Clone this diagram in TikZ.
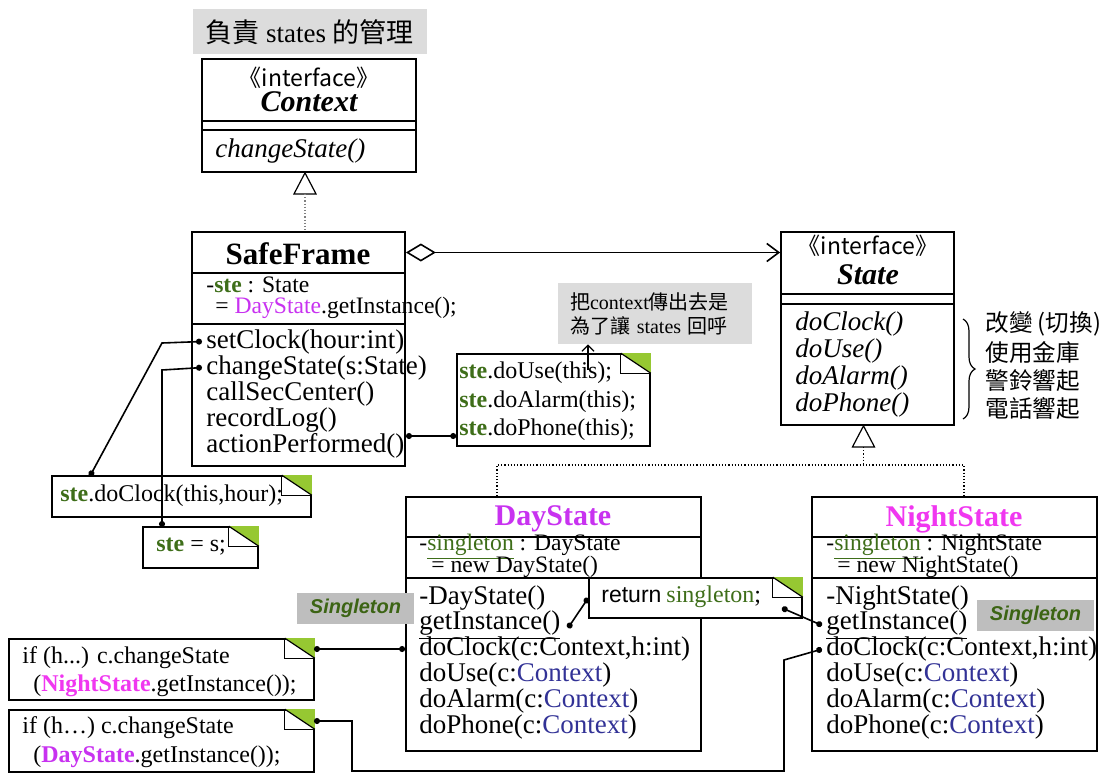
\documentclass[tikz,border=0pt]{standalone}
\usepackage{fontspec}
\setmainfont{Liberation Serif}
\setsansfont{Liberation Sans}
\newfontfamily\cjk{Noto Sans CJK TC}
\usepackage{xcolor}
\usetikzlibrary{arrows.meta}
\usetikzlibrary{fit}
\usetikzlibrary{decorations.pathreplacing}

\definecolor{steGreen}{RGB}{62,110,25}
\definecolor{dayPink}{RGB}{200,50,240}
\definecolor{nightPink}{RGB}{240,55,240}
\definecolor{ctxBlue}{RGB}{50,50,150}
\definecolor{foldGreen}{RGB}{150,200,50}
\definecolor{tagGray}{RGB}{190,190,190}
\definecolor{noteGray}{RGB}{220,220,220}
\definecolor{tagGreen}{RGB}{60,100,20}

\newcommand{\fsz}[2]{\fontsize{#1}{#2}\selectfont}
\newcommand{\ste}{\textcolor{steGreen}{\textbf{ste}}}
\newcommand{\ctxt}{\textcolor{ctxBlue}{Context}}
\newcommand{\foldcorner}[1]{%
  \fill[foldGreen] ([xshift=-15pt]#1.north east) -- (#1.north east) -- ([yshift=-10pt]#1.north east) -- cycle;
  \draw[line width=0.6pt] ([xshift=-15pt]#1.north east) |- ([yshift=-10pt]#1.north east);
  \draw[line width=0.6pt] ([xshift=-15pt]#1.north east) -- ([yshift=-10pt]#1.north east);}
\newcommand{\gentri}[2]{%
  \coordinate (#2) at ([xshift=-2pt]#1);
  \draw[line width=0.6pt, fill=white] (#2) -- ++(-11,21) -- ++(22,0) -- cycle;}

\begin{document}
\begin{tikzpicture}[x=0.5pt, y=-0.5pt,
  box/.style={draw, line width=0.9pt, inner sep=0pt},
  noteBox/.style={draw, fill=white, line width=0.8pt, inner sep=0pt},
  meth/.style={font=\fsz{13.5}{13}, inner xsep=2pt, inner ysep=0pt, anchor=base west},
  attr/.style={font=\fsz{11.8}{10}, inner xsep=2pt, inner ysep=0pt, anchor=base west},
  noteText/.style={font=\fsz{12}{14}, inner sep=0pt, anchor=west},
  stereo/.style={font=\cjk\fsz{11.5}{12}, inner sep=0pt},
  wire/.style={line width=0.8pt, {Circle[length=3pt]}-{Circle[length=3pt]}},
  genline/.style={densely dotted, line width=0.6pt},
  tagBox/.style={fill=tagGray, inner sep=0pt, minimum width=58.5pt, minimum height=15.5pt,
    font=\sffamily\bfseries\itshape\fsz{10}{12}, text=tagGreen}]
\useasboundingbox (0,0) rectangle (1105,778);

% title
\node[fill=noteGray, minimum width=117pt, minimum height=22.4pt, inner sep=0pt, font=\fsz{13.5}{14}] (topNote) at (309.5,31.7) {{\cjk 負責} states {\cjk 的管理}};

% Context
\node[box, fit={(202,59) (416,121)}] (ctxHead) {};
\node[box, fit={(202,121) (416,130)}] (ctxAttr) {};
\node[box, fit={(202,130) (416,172)}] (ctxOps) {};
\node[stereo] (ctxStereo) at (309,78) {《interface》};
\node[font=\bfseries\itshape\fsz{15}{15}, inner sep=0pt] (ctxName) at (309,102) {Context};
\node[meth] (ctxOp) at (211,157) {\textit{changeState()}};

% SafeFrame
\node[box, fit={(192,232) (405,273)}] (sfHead) {};
\node[box, fit={(192,273) (405,324)}] (sfAttr) {};
\node[box, fit={(192,324) (405,466)}] (sfOps) {};
\node[font=\bfseries\fsz{15.5}{15}, inner sep=0pt] (sfName) at (298,254) {SafeFrame};
\node[attr] (sfAttr1) at (202,292) {-\ste{} : State};
\node[attr] (sfAttr2) at (211,313) {= \textcolor{dayPink}{DayState}.getInstance();};
\foreach \m [count=\i] in {setClock(hour:int), changeState(s:State), callSecCenter(), recordLog(), actionPerformed()}
  \node[meth] (sf\i) at (202,{348+26*(\i-1)}) {\m};

\gentri{ctxOps.south}{ctxTip}
\draw[genline, gray] ([yshift=-10.5pt]ctxTip) -- (ctxTip |- sfHead.north);

% State
\node[box, fit={(781,232) (954,294)}] (stHead) {};
\node[box, fit={(781,294) (954,304)}] (stAttr) {};
\node[box, fit={(781,304) (954,425)}] (stOps) {};
\node[stereo] (stStereo) at (868,246) {《interface》};
\node[font=\bfseries\itshape\fsz{15}{15}, inner sep=0pt] (stName) at (868,275) {State};
\foreach \m [count=\i] in {doClock(), doUse(), doAlarm(), doPhone()}
  \node[meth] (stOp\i) at (791,{330+27*(\i-1)}) {\textit{\m}};
\draw[decorate, decoration={brace, amplitude=6pt}, line width=0.6pt] (963,319) -- (963,419);
\foreach \t [count=\i] in {改變 (切換), 使用金庫, 警鈴響起, 電話響起}
  \node[anchor=west, inner sep=0pt, font=\cjk\fsz{11.8}{13}] (act\i) at (985,{324+28*(\i-1)}) {\t};

\draw[line width=0.8pt, {Diamond[open, length=15pt, width=9pt]}-{Straight Barb[length=6pt, width=9pt]}] (sfHead.east) -- (stHead.west |- sfHead.east);

% hint and calls
\node[fill=noteGray, inner xsep=6pt, inner ysep=0pt, text width=84.9pt, minimum height=30.5pt, align=left, font=\fsz{10}{12}] (hint) at (655,313.5) {{\cjk 把}context{\cjk 傳出去是}\\{\cjk 為了讓} states {\cjk 回呼}};
\node[noteBox, fit={(457,354) (650,446)}] (phoneNote) {};
\foldcorner{phoneNote}
\foreach \m/\y [count=\i] in {doUse/373, doAlarm/402, doPhone/430}
  \node[noteText] (call\i) at (459,\y) {\ste.\m(this);};
\coordinate (hintFoot) at (588,370);
\draw[line width=0.6pt, -{Straight Barb[length=3pt, width=6pt]}] (hintFoot) -- (hintFoot |- hint.south);

% notes of SafeFrame
\node[noteBox, fit={(52,476) (311,517)}] (clockNote) {};
\foldcorner{clockNote}
\node[noteText] (clockText) at (60,496) {\ste.doClock(this,hour);};
\node[noteBox, fit={(143,527) (258,568)}] (steNote) {};
\foldcorner{steNote}
\node[noteText] (steText) at (156,547) {\ste{} = s;};

% DayState
\node[box, fit={(406,497) (701,537)}] (dayHead) {};
\node[box, fit={(406,537) (701,578)}] (dayAttr) {};
\node[box, fit={(406,578) (701,751)}] (dayOps) {};
\node[font=\bfseries\fsz{15}{15}, text=dayPink, inner sep=0pt] (dayName) at (553,519) {DayState};
\node[attr] (dayAttr1) at (415,550) {-\textcolor{steGreen}{\underline{singleton}} : DayState};
\node[attr] (dayAttr2) at (427,572) {= new DayState()};
\foreach \m [count=\i] in {-DayState(), \underline{getInstance()}, {doClock(c:Context,h:int)}, doUse(c:\ctxt), doAlarm(c:\ctxt), doPhone(c:\ctxt)}
  \node[meth] (day\i) at (415,{604+25.8*(\i-1)}) {\m};

% NightState
\node[box, fit={(812,497) (1097,537)}] (nightHead) {};
\node[box, fit={(812,537) (1097,578)}] (nightAttr) {};
\node[box, fit={(812,578) (1097,751)}] (nightOps) {};
\node[font=\bfseries\fsz{15}{15}, text=nightPink, inner sep=0pt] (nightName) at (954,519) {NightState};
\node[attr] (nightAttr1) at (822,550) {-\textcolor{steGreen}{\underline{singleton}} : NightState};
\node[attr] (nightAttr2) at (833,572) {= new NightState()};
\foreach \m [count=\i] in {-NightState(), \underline{getInstance()}, {doClock(c:Context,h:int)}, doUse(c:\ctxt), doAlarm(c:\ctxt), doPhone(c:\ctxt)}
  \node[meth] (night\i) at (822,{604+25.8*(\i-1)}) {\m};

\gentri{stOps.south}{stTip}
\coordinate (dayJoin) at (497,465);
\coordinate (nightJoin) at (964,465);
\draw[genline] ([yshift=-10.5pt]stTip) -- (stTip |- dayJoin);
\draw[genline] (dayHead.north -| dayJoin) -- (dayJoin) -- (nightJoin) -- (nightHead.north -| nightJoin);

% notes of the states
\node[noteBox, fit={(9,639) (314,700)}] (nightNote) {};
\foldcorner{nightNote}
\node[noteText] (nightIf) at (22,658) {if (h...) c.changeState};
\node[noteText] (nightGet) at (33,686) {(\textbf{\textcolor{nightPink}{NightState}}.getInstance());};
\node[noteBox, fit={(9,710) (314,772)}] (dayNote) {};
\foldcorner{dayNote}
\node[noteText] (dayIf) at (22,728) {if (h…) c.changeState};
\node[noteText] (dayGet) at (33,757) {(\textbf{\textcolor{dayPink}{DayState}}.getInstance());};
\node[noteBox, fit={(589,578) (802,618)}] (retNote) {};
\foldcorner{retNote}
\node[anchor=west, inner sep=0pt] (retText) at (601,597) {{\sffamily\fsz{11.5}{12}return} {\fsz{12}{12}\textcolor{steGreen}{singleton};}};

\node[tagBox] (dayTag) at (355.5,608.5) {Singleton};
\node[tagBox] (nightTag) at (1035.5,615) {Singleton};

% wires
\coordinate (clockPin) at (90,476);
\coordinate (stePin) at (162,527);
\coordinate (actPin) at (406,436);
\coordinate (dayGetPin) at (568,628);
\coordinate (retPin) at (782,608);
\coordinate (nightPin) at (314,649);
\coordinate (dayPin) at (314,721);
\draw[wire] (sf1.west) -- (162,343) -- (clockPin);
\draw[wire] (sf2.west) -- (162,370) -- (stePin);
\draw[wire] (actPin) -- (actPin -| phoneNote.west);
\draw[wire] (dayGetPin) -- (retNote.west);
\draw[wire] (retPin) -- (night2.west);
\draw[wire] (night3.west) -- (784,660) -- (784,771) -| (352,721) -- (dayPin);
\draw[wire] (nightPin) -- (nightPin -| dayOps.west);
\end{tikzpicture}
\end{document}
